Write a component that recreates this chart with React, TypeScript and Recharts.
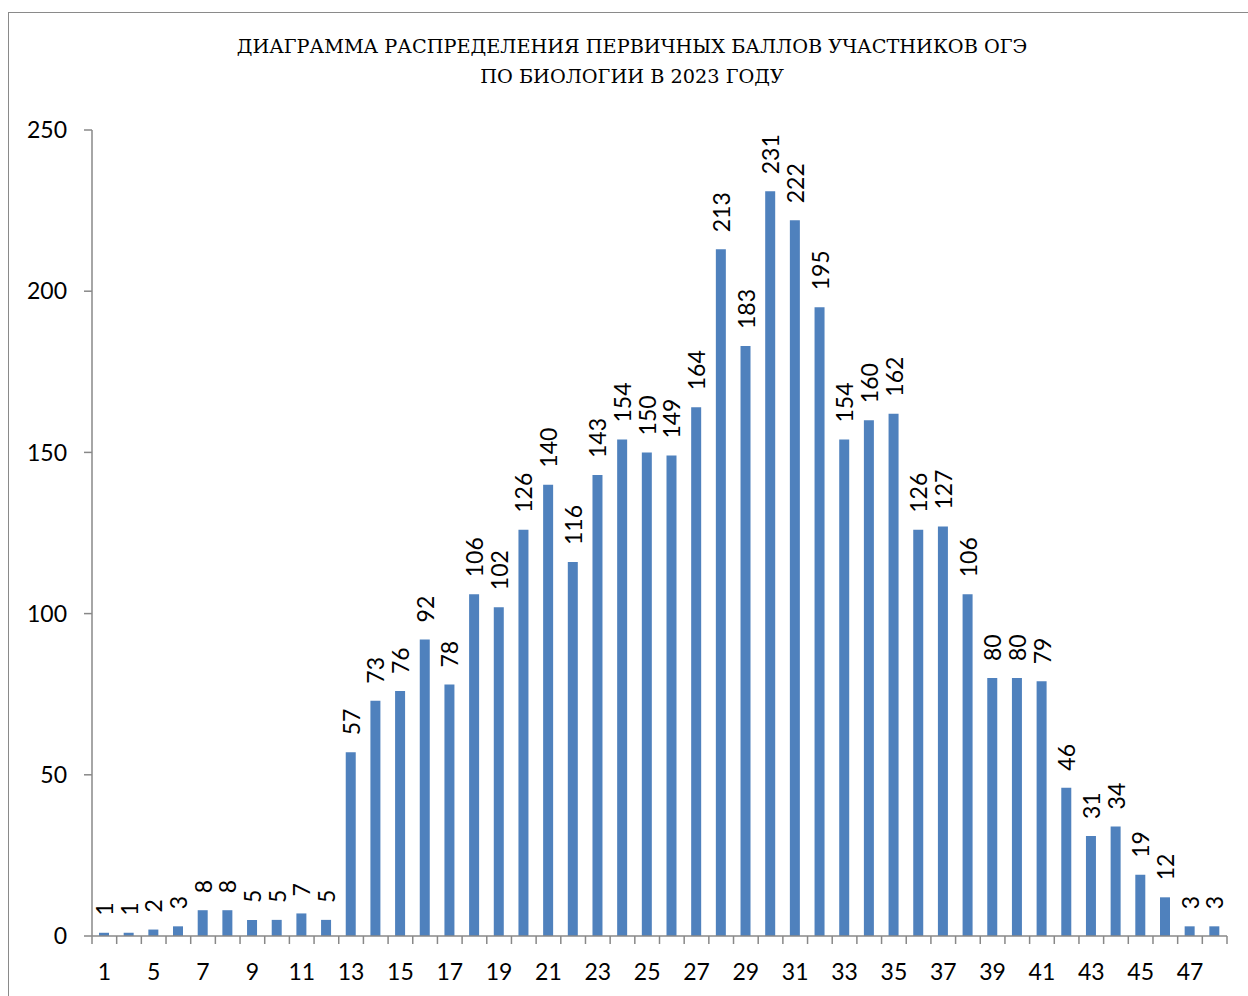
import React from "react";
import { BarChart, Bar, XAxis, YAxis, LabelList } from "recharts";

const categories: string[] = [
  "1", "3", "5", "6", "7", "8", "9", "10", "11", "12",
  "13", "14", "15", "16", "17", "18", "19", "20", "21", "22",
  "23", "24", "25", "26", "27", "28", "29", "30", "31", "32",
  "33", "34", "35", "36", "37", "38", "39", "40", "41", "42",
  "43", "44", "45", "46", "47", "48",
];

const counts: number[] = [
  1, 1, 2, 3, 8, 8, 5, 5, 7, 5,
  57, 73, 76, 92, 78, 106, 102, 126, 140, 116,
  143, 154, 150, 149, 164, 213, 183, 231, 222, 195,
  154, 160, 162, 126, 127, 106, 80, 80, 79, 46,
  31, 34, 19, 12, 3, 3,
];

const yTicks: number[] = [0, 50, 100, 150, 200, 250];

const titleLines: string[] = [
  "ДИАГРАММА РАСПРЕДЕЛЕНИЯ ПЕРВИЧНЫХ БАЛЛОВ УЧАСТНИКОВ ОГЭ",
  "ПО БИОЛОГИИ В 2023 ГОДУ",
];

const data = categories.map((c, i) => ({ score: c, count: counts[i] }));

const AXIS_COLOR = "#888888";
const BAR_COLOR = "#4F81BD";
const FONT = "Lato, 'Open Sans', sans-serif";

const XTick = (props: any) => {
  const { x, y, payload, index } = props;
  const half = payload && typeof payload.offset === "number" && payload.offset > 0 ? payload.offset : 12.34;
  const isLast = index === categories.length - 1;
  return (
    <g>
      <line x1={x - half} y1={y} x2={x - half} y2={y + 8} stroke={AXIS_COLOR} strokeWidth={1.5} />
      {isLast && (
        <line x1={x + half} y1={y} x2={x + half} y2={y + 8} stroke={AXIS_COLOR} strokeWidth={1.5} />
      )}
      {index % 2 === 0 && (
        <text
          x={x}
          y={y + 35}
          textAnchor="middle"
          dominantBaseline="central"
          fontFamily={FONT}
          fontSize={23}
          fill="#000"
        >
          {payload.value}
        </text>
      )}
    </g>
  );
};

const BarLabel = (props: any) => {
  const { x, y, width, value } = props;
  const cx = Number(x) + Number(width) / 2;
  const ty = Number(y) - 17;
  return (
    <text
      x={cx}
      y={ty}
      transform={`rotate(-90, ${cx}, ${ty})`}
      textAnchor="start"
      dominantBaseline="central"
      fontFamily={FONT}
      fontSize={23}
      fill="#000"
    >
      {value}
    </text>
  );
};

export default function App() {
  return (
    <div
      style={{
        position: "absolute",
        left: 0,
        top: 0,
        width: 1248,
        height: 996,
        background: "#fff",
        overflow: "hidden",
      }}
    >
      <div
        style={{
          position: "absolute",
          left: 8,
          top: 12,
          width: 1300,
          height: 1100,
          border: "1.5px solid #8a8a8a",
          boxSizing: "border-box",
        }}
      />
      <div
        style={{
          position: "absolute",
          left: 0,
          top: 32,
          width: 1264,
          textAlign: "center",
          fontFamily: "'DejaVu Serif', 'Liberation Serif', serif",
          fontSize: 19.3,
          lineHeight: "30px",
          color: "#000",
        }}
      >
        {titleLines.map((t) => (
          <div key={t}>{t}</div>
        ))}
      </div>
      <div style={{ position: "absolute", left: 0, top: 0 }}>
        <BarChart
          width={1248}
          height={996}
          data={data}
          margin={{ top: 130, right: 21, bottom: 0, left: 0 }}
          barSize={10}
        >
          <XAxis
            dataKey="score"
            interval={0}
            height={60}
            tickSize={0}
            tickMargin={0}
            tickLine={false}
            axisLine={{ stroke: AXIS_COLOR, strokeWidth: 1.5 }}
            tick={<XTick />}
          />
          <YAxis
            width={92}
            domain={[0, 250]}
            ticks={yTicks}
            interval={0}
            tickSize={8}
            tickMargin={17}
            axisLine={{ stroke: AXIS_COLOR, strokeWidth: 1.5 }}
            tickLine={{ stroke: AXIS_COLOR, strokeWidth: 1.5 }}
            tick={{ fontFamily: FONT, fontSize: 23, fill: "#000" }}
          />
          <Bar dataKey="count" fill={BAR_COLOR} isAnimationActive={false}>
            <LabelList dataKey="count" content={<BarLabel />} />
          </Bar>
        </BarChart>
      </div>
    </div>
  );
}
